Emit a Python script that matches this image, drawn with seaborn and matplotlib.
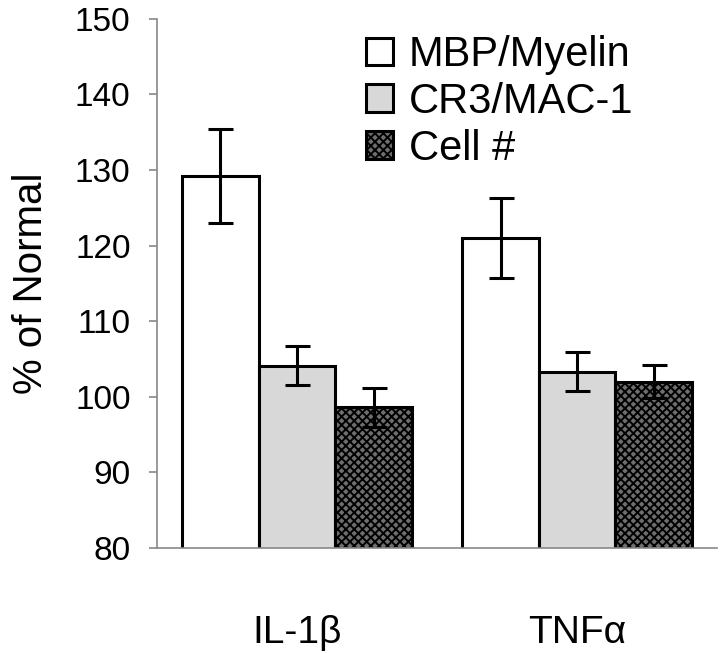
import pandas as pd
import matplotlib
matplotlib.use('Agg')
import matplotlib.pyplot as plt
import seaborn as sns

# ── Data ─────────────────────────────────────────────────────
cytokines = ['IL-1β', 'TNFα']
measures = ['MBP/Myelin', 'CR3/MAC-1', 'Cell #']
mbp_vals = [129.2, 121.0]
mbp_err = [6.2, 5.3]
cr3_vals = [104.1, 103.3]
cr3_err = [2.6, 2.6]
cell_vals = [98.6, 102.0]
cell_err = [2.6, 2.2]

df = pd.DataFrame({
    'cytokine': cytokines * 3,
    'measure': [m for m in measures for _ in cytokines],
    'value': mbp_vals + cr3_vals + cell_vals,
    'err': mbp_err + cr3_err + cell_err,
})

# ── Style ────────────────────────────────────────────────────
sns.set_theme(style='white')
plt.rcParams['font.family'] = ['Liberation Sans', 'DejaVu Sans']
plt.rcParams['hatch.linewidth'] = 1.4
plt.rcParams['text.color'] = 'black'
plt.rcParams['xtick.labelcolor'] = 'black'
plt.rcParams['ytick.labelcolor'] = 'black'
plt.rcParams['axes.labelcolor'] = 'black'

fig = plt.figure(figsize=(7.2, 6.53), dpi=100)
ax = fig.add_axes([0.218, 0.161, 0.778, 0.81])

sns.barplot(data=df, x='cytokine', y='value', hue='measure',
            order=cytokines, hue_order=measures, width=0.82,
            errorbar=None, legend=False, ax=ax)

faces = ['white', '#d8d8d8', '#6e6e6e']
hatches = [None, None, 'xxxx']
handles = []
for cont, m, fc, h in zip(ax.containers, measures, faces, hatches):
    sub = df[df['measure'] == m].set_index('cytokine').loc[cytokines]
    xs = []
    for bar in cont:
        bar.set_facecolor(fc)
        bar.set_edgecolor('black')
        bar.set_linewidth(2.2)
        if h:
            bar.set_hatch(h)
        xs.append(bar.get_x() + bar.get_width() / 2)
    ax.errorbar(xs, sub['value'], yerr=sub['err'], fmt='none',
                ecolor='black', elinewidth=2.2, capsize=9, capthick=2.2, zorder=5)
    handles.append(cont[0])

ax.set_ylim(80, 150)
ax.set_xlim(-0.5, 1.5)
ax.set_yticks(range(80, 151, 10))
ax.set_xticks([-0.5, 0.5, 1.5])
ax.set_xticklabels([])
ax.set_xticks([0, 1], minor=True)
ax.set_xticklabels(cytokines, minor=True)
ax.tick_params(axis='x', which='minor', length=0, pad=48, labelsize=28)
ax.tick_params(axis='x', which='major', length=8, width=1.2, color='#888888', direction='out')
ax.tick_params(axis='y', length=6, width=1.2, color='#888888', direction='out',
               labelsize=24, pad=13, left=True)

ax.set_xlabel('')
ax.set_ylabel('% of Normal', fontsize=29, labelpad=18)

sns.despine(ax=ax)
for side in ['left', 'bottom']:
    ax.spines[side].set_color('#888888')
    ax.spines[side].set_linewidth(1.2)

ax.legend(handles, measures, loc='upper left', bbox_to_anchor=(0.358, 0.985),
          frameon=False, fontsize=30, handlelength=0.65, handleheight=0.65,
          handletextpad=0.38, labelspacing=0.16, borderpad=0.2, borderaxespad=0)

plt.savefig('out.png', dpi=100)
